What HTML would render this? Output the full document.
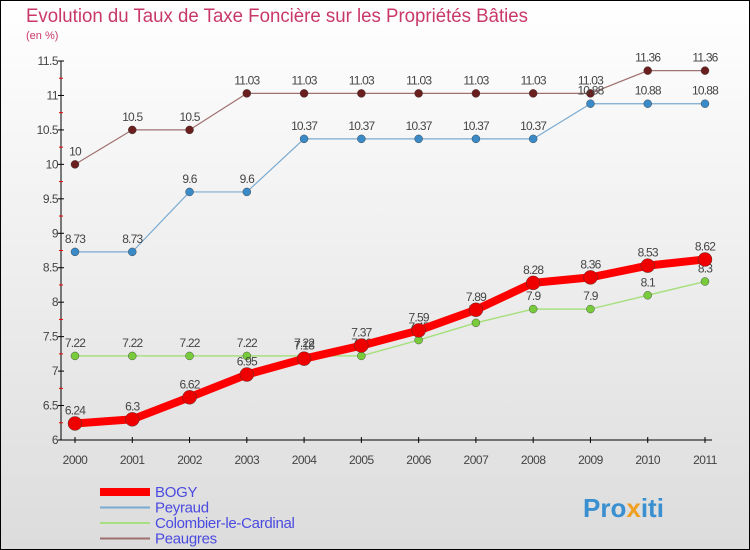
<!DOCTYPE html>
<html><head><meta charset="utf-8"><style>
body{margin:0}
#c{width:750px;height:550px;position:relative;overflow:hidden;font-family:"Liberation Sans",sans-serif}
</style></head><body>
<div id="c">
<svg width="750" height="550">
<defs><linearGradient id="bg" x1="0" y1="0" x2="0" y2="1"><stop offset="0" stop-color="#ffffff"/><stop offset="1" stop-color="#dcdcdc"/></linearGradient></defs>
<rect x="0.5" y="0.5" width="749" height="549" fill="url(#bg)" stroke="#000"/>
<text x="26" y="22" font-size="19" fill="#c8386a" textLength="502" lengthAdjust="spacingAndGlyphs">Evolution du Taux de Taxe Foncière sur les Propriétés Bâties</text>
<text x="26" y="39" font-size="11" fill="#c8386a">(en %)</text>
<g id="axes"></g><g id="series"></g><g id="legend"></g>
<text x="583" y="517" font-size="26" font-weight="bold" fill="#3a8fd0">Pro<tspan fill="#f0a020">x</tspan>iti</text>
</svg></div>
<script>
const years=["2000","2001","2002","2003","2004","2005","2006","2007","2008","2009","2010","2011"];
const yTicks=[6,6.5,7,7.5,8,8.5,9,9.5,10,10.5,11,11.5];
const bogy=[6.24,6.3,6.62,6.95,7.18,7.37,7.59,7.89,8.28,8.36,8.53,8.62];
const peyraud=[8.73,8.73,9.6,9.6,10.37,10.37,10.37,10.37,10.37,10.88,10.88,10.88];
const colombier=[7.22,7.22,7.22,7.22,7.22,7.22,7.45,7.7,7.9,7.9,8.1,8.3];
const peaugres=[10,10.5,10.5,11.03,11.03,11.03,11.03,11.03,11.03,11.03,11.36,11.36];
const NS="http://www.w3.org/2000/svg";
const X=i=>75+i*(630/11), Y=v=>440-(v-6)*(379/5.5);
function mk(t,a,p){const e=document.createElementNS(NS,t);for(const k in a)e.setAttribute(k,a[k]);p.appendChild(e);return e;}
const ax=document.getElementById('axes');
let yl=mk('line',{x1:61,y1:Y(11.5),x2:61,y2:440,stroke:'#000'},ax);


let xl=mk('line',{x1:61,y1:440,x2:712,y2:440,stroke:'#000'},ax);


yTicks.forEach(v=>{
 mk('line',{x1:58,y1:Y(v),x2:64,y2:Y(v),stroke:'#000'},ax);
 if(v<11.5)mk('line',{x1:59,y1:Y(v+0.25),x2:63,y2:Y(v+0.25),stroke:'#e00'},ax);
 const t=mk('text',{x:58,y:Y(v)+4,'font-size':12,fill:'#444','text-anchor':'end','letter-spacing':'-0.5'},ax);
 t.textContent=String(v);
 
 
});
years.forEach((y,i)=>{
 mk('line',{x1:X(i),y1:437,x2:X(i),y2:443,stroke:'#000'},ax);
 const t=mk('text',{x:X(i),y:464,'font-size':12,fill:'#444','text-anchor':'middle','letter-spacing':'-0.5'},ax);
 t.textContent=y;
 
 
});
const sg=document.getElementById('series');
function series(d,col,dot,w,r,name){
 const g=mk('g',{},sg);
 
 
 const l=mk('polyline',{points:d.map((v,i)=>X(i)+','+Y(v)).join(' '),fill:'none',stroke:col,'stroke-width':w,'stroke-linejoin':'round'},g);
 
 
 d.forEach((v,i)=>{
  const c=mk('circle',{cx:X(i),cy:Y(v),r:r,fill:dot,stroke:'#333','stroke-width':0.4},g);
  
  
  const t=mk('text',{x:X(i),y:Y(v)-9,'font-size':12,fill:'#444','text-anchor':'middle','letter-spacing':'-0.8'},g);
  t.textContent=String(v);
  
  
 });
}
series(peaugres,'#a07070','#6b1e1e',1.2,4,'peaugres');
series(peyraud,'#7aaad0','#3a8ac8',1.2,4,'peyraud');
series(colombier,'#a8e080','#78cc3c',1.5,4,'colombier');
series(bogy,'#ff0000','#ee0000',8,7,'bogy');
const lg=document.getElementById('legend');
[['BOGY','#ff0000',8],['Peyraud','#7aaad0',2],['Colombier-le-Cardinal','#a8e080',2],['Peaugres','#a07070',2]].forEach((e,i)=>{
 const y=492+i*15.5;
 const l=mk('line',{x1:100,y1:y,x2:150,y2:y,stroke:e[1],'stroke-width':e[2]},lg);
 
 
 const t=mk('text',{x:155,y:y+5,'font-size':15,fill:'#4a4ae0','letter-spacing':'-0.3'},lg);
 t.textContent=e[0];
 
 
});
</script>
</body></html>
